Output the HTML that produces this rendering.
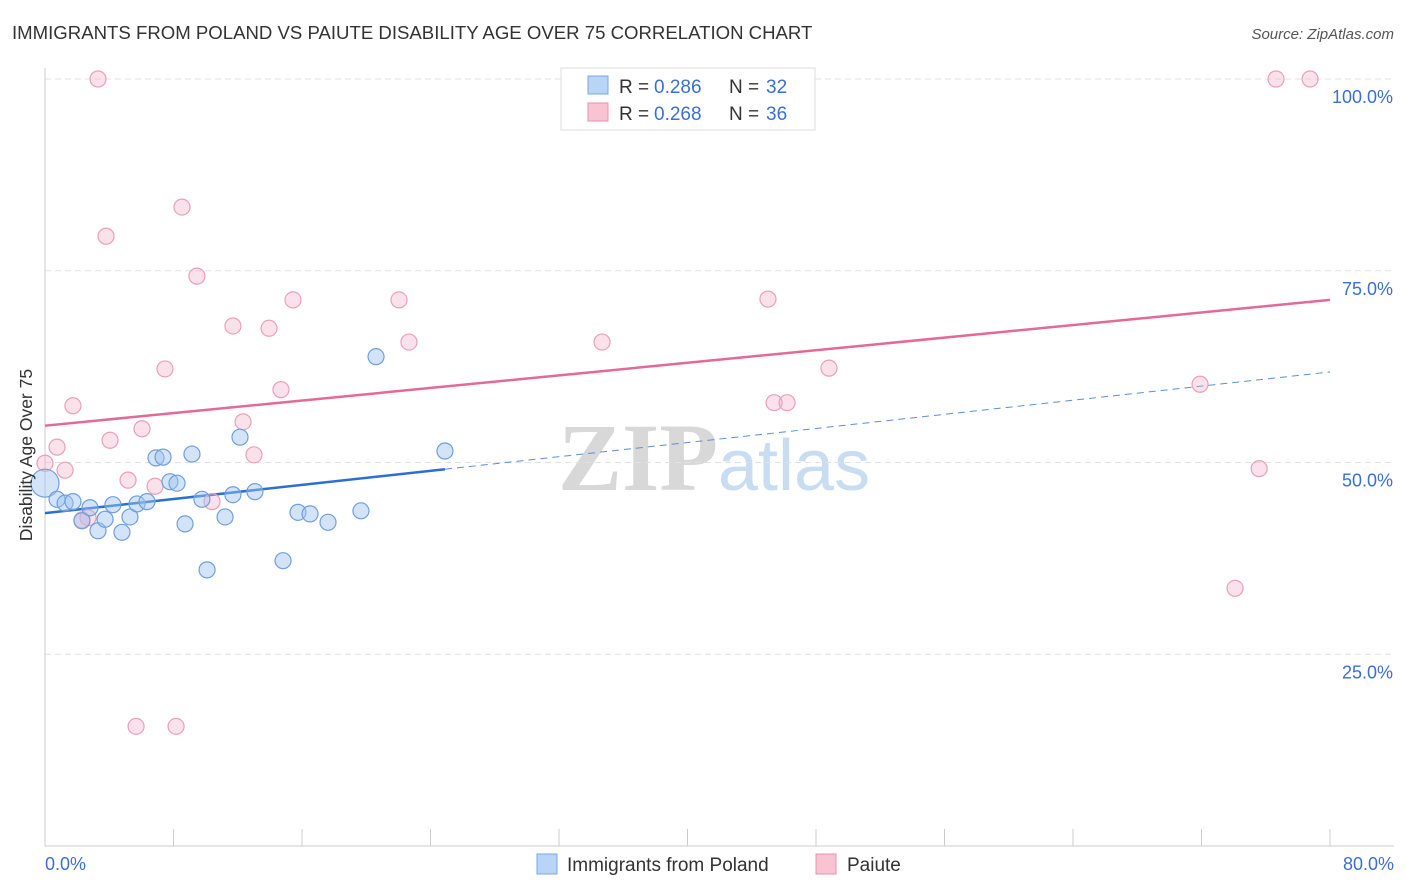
<!DOCTYPE html>
<html><head><meta charset="utf-8">
<style>
body{margin:0;background:#fff;font-family:"Liberation Sans",sans-serif;}
#wrap{position:relative;width:1406px;height:892px;overflow:hidden;}
</style></head>
<body>
<div id="wrap">
<svg id="chart" width="1406" height="892">
<text x="12" y="39" font-size="18.6" fill="#333">IMMIGRANTS FROM POLAND VS PAIUTE DISABILITY AGE OVER 75 CORRELATION CHART</text>
<text x="1394" y="39" font-size="15" fill="#555" text-anchor="end" font-style="italic">Source: ZipAtlas.com</text>
<text x="718" y="490" font-size="96" fill="#d8d8d8" text-anchor="end" font-family="Liberation Serif, serif" font-weight="bold">ZIP</text>
<text x="718" y="490" font-size="72" fill="#c8dcf2">atlas</text>
<g id="grid"></g><g id="axes"></g><g id="lines"></g><g id="pts"></g>
<text x="32" y="455" font-size="17.5" fill="#333" text-anchor="middle" transform="rotate(-90 32 455)">Disability Age Over 75</text>
<text x="45" y="870" font-size="18" fill="#3a6fd8">0.0%</text>
<text x="1394" y="870" font-size="18" fill="#3a6fd8" text-anchor="end">80.0%</text>
<g>
<rect x="561" y="68" width="254" height="62" fill="#fff" stroke="#ddd"/>
<rect x="588" y="76" width="20" height="18" fill="#b8d4f6" stroke="#7aa8e0"/>
<rect x="588" y="103" width="20" height="18" fill="#f8c4d4" stroke="#e890b0"/>
<text x="619" y="93" font-size="19" fill="#333">R = </text><text x="654" y="93" font-size="19" fill="#3a6fd8">0.286</text>
<text x="729" y="93" font-size="19" fill="#333">N = </text><text x="766" y="93" font-size="19" fill="#3a6fd8">32</text>
<text x="619" y="120" font-size="19" fill="#333">R = </text><text x="654" y="120" font-size="19" fill="#3a6fd8">0.268</text>
<text x="729" y="120" font-size="19" fill="#333">N = </text><text x="766" y="120" font-size="19" fill="#3a6fd8">36</text>
</g>
<g>
<rect x="537" y="854" width="20" height="20" fill="#b8d4f6" stroke="#7aa8e0"/>
<text x="567" y="871" font-size="19" fill="#333">Immigrants from Poland</text>
<rect x="816" y="854" width="20" height="20" fill="#f8c4d4" stroke="#e890b0"/>
<text x="847" y="871" font-size="19" fill="#333">Paiute</text>
</g>
</svg>
</div>
<script>
const blueX=[0,0.75,1.25,1.74,2.30,2.80,3.30,3.74,4.23,4.79,5.29,5.73,6.35,6.91,7.35,7.78,8.22,8.72,9.15,9.77,10.09,11.21,11.70,12.14,13.07,14.82,15.75,16.50,17.62,19.67,20.61,24.90];
const blueY=[47.3,45.2,44.7,44.9,42.4,44.1,41.1,42.6,44.5,40.9,42.9,44.6,44.9,50.6,50.7,47.5,47.3,42.0,51.1,45.2,36.0,42.9,45.8,53.3,46.2,37.2,43.5,43.3,42.2,43.7,63.8,51.5];
const pinkX=[3.30,76.64,78.76,8.53,3.80,9.46,15.44,22.04,45.01,11.70,13.95,22.66,34.68,7.47,48.81,14.69,71.91,1.74,12.33,45.39,46.20,6.04,4.05,0.75,0,1.25,5.17,13.01,6.85,10.40,2.68,2.30,75.59,74.09,5.67,8.16];
const pinkY=[100,100,100,83.3,79.5,74.3,71.2,71.2,71.3,67.8,67.5,65.7,65.7,62.2,62.3,59.5,60.2,57.4,55.3,57.8,57.8,54.4,52.9,52.0,49.9,49.0,47.7,51.0,46.9,44.9,42.8,42.5,49.2,33.6,15.6,15.6];
const yTicks=[25,50,75,100];
const yTickLabels=["25.0%","50.0%","75.0%","100.0%"];
const xTicks=[0,8,16,24,32,40,48,56,64,72,80];
const blueTrend=[43.4,61.8];const blueSolidEnd=24.9;
const pinkTrend=[54.8,71.2];
const NS="http://www.w3.org/2000/svg";
const sx=v=>45+v/80*1285, sy=v=>846-v/100*767;
function mk(p,t,a){const e=document.createElementNS(NS,t);for(const k in a)e.setAttribute(k,a[k]);p.appendChild(e);return e;}
const g=document.getElementById('grid'),ax=document.getElementById('axes'),ln=document.getElementById('lines'),pt=document.getElementById('pts');
yTicks.forEach((v,i)=>{
 const l=mk(g,'line',{x1:45,x2:1394,y1:sy(v),y2:sy(v),stroke:'#e2e2e2','stroke-dasharray':'6,4'});
 
 
 const t=mk(g,'text',{x:1393,y:sy(v)+24,'font-size':18,fill:'#3a6fd8','text-anchor':'end'});
 t.textContent=yTickLabels[i];
 
 
});
const xa=mk(ax,'line',{x1:45,x2:1394,y1:846,y2:846,stroke:'#ccc'});


const ya=mk(ax,'line',{x1:45,x2:45,y1:68,y2:846,stroke:'#ccc'});


xTicks.forEach(v=>{const t=mk(ax,'line',{x1:sx(v),x2:sx(v),y1:829,y2:846,stroke:'#ccc'});
 
 });
const pl=mk(ln,'line',{x1:sx(0),y1:sy(pinkTrend[0]),x2:sx(80),y2:sy(pinkTrend[1]),stroke:'#e46a96','stroke-width':2.5});


const bY=x=>blueTrend[0]+(blueTrend[1]-blueTrend[0])*x/80;
const bd=mk(ln,'line',{x1:sx(blueSolidEnd),y1:sy(bY(blueSolidEnd)),x2:sx(80),y2:sy(blueTrend[1]),stroke:'#5b8fd8','stroke-width':1,'stroke-dasharray':'7,5'});


const bs=mk(ln,'line',{x1:sx(0),y1:sy(blueTrend[0]),x2:sx(blueSolidEnd),y2:sy(bY(blueSolidEnd)),stroke:'#2a6fd6','stroke-width':2.5});


pinkX.forEach((x,i)=>{const c=mk(pt,'circle',{cx:sx(x),cy:sy(pinkY[i]),r:8,fill:'rgba(244,170,196,0.35)',stroke:'#eaa0bc','stroke-width':1.2});
 
 });
blueX.forEach((x,i)=>{const c=mk(pt,'circle',{cx:sx(x),cy:sy(blueY[i]),r:i==0?14:8,fill:'rgba(160,196,240,0.45)',stroke:'#6fa0dc','stroke-width':1.2});
 
 });
</script>
</body></html>
